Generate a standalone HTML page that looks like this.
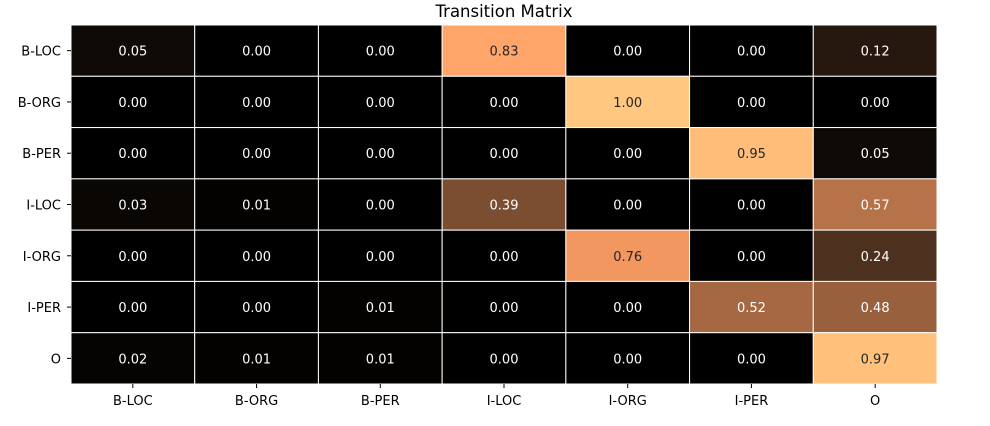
<!DOCTYPE html>
<html><head><meta charset="utf-8"><style>
body{margin:0;background:#fff;}
svg{display:block;font-family:"DejaVu Sans","Liberation Sans",sans-serif;}
</style></head><body>
<svg id="chart" width="990" height="426">
<text x="504" y="17" text-anchor="middle" font-size="16.5" fill="#000">Transition Matrix</text>
<g id="cells"></g><g id="ticks"></g>
</svg>
<script>
const rowLabels=["B-LOC","B-ORG","B-PER","I-LOC","I-ORG","I-PER","O"];
const colLabels=["B-LOC","B-ORG","B-PER","I-LOC","I-ORG","I-PER","O"];
const row0=[0.05,0.00,0.00,0.83,0.00,0.00,0.12];
const row1=[0.00,0.00,0.00,0.00,1.00,0.00,0.00];
const row2=[0.00,0.00,0.00,0.00,0.00,0.95,0.05];
const row3=[0.03,0.01,0.00,0.39,0.00,0.00,0.57];
const row4=[0.00,0.00,0.00,0.00,0.76,0.00,0.24];
const row5=[0.00,0.00,0.01,0.00,0.00,0.52,0.48];
const row6=[0.02,0.01,0.01,0.00,0.00,0.00,0.97];
const values=[row0,row1,row2,row3,row4,row5,row6];
const X0=71,X1=937,Y0=25,Y1=384;
const cw=(X1-X0)/colLabels.length, ch=(Y1-Y0)/rowLabels.length;
const xs=i=>X0+i*cw, ys=j=>Y0+j*ch;
const NS="http://www.w3.org/2000/svg";
function copper(v){return [Math.min(1,1.25*v)*255,0.7812*v*255,0.4975*v*255].map(Math.round);}
function lum(c){const l=c.map(x=>{x/=255;return x<=0.03928?x/12.92:Math.pow((x+0.055)/1.055,2.4);});return 0.2126*l[0]+0.7152*l[1]+0.0722*l[2];}
const cells=document.getElementById('cells'),ticks=document.getElementById('ticks');
values.forEach((row,j)=>row.forEach((v,i)=>{
 const c=copper(v);
 const r=document.createElementNS(NS,'rect');
 r.setAttribute('x',xs(i));r.setAttribute('y',ys(j));r.setAttribute('width',cw);r.setAttribute('height',ch);
 r.setAttribute('fill',`rgb(${c})`);r.setAttribute('stroke','#fff');r.setAttribute('stroke-width','1');
 
 
 cells.appendChild(r);
 const t=document.createElementNS(NS,'text');
 t.setAttribute('x',xs(i)+cw/2);t.setAttribute('y',ys(j)+ch/2+5);t.setAttribute('text-anchor','middle');
 t.setAttribute('font-size','13');t.setAttribute('fill',lum(c)>0.408?'#262626':'#fff');
 t.textContent=v.toFixed(2);
 
 
 cells.appendChild(t);
}));
rowLabels.forEach((l,j)=>{
 const t=document.createElementNS(NS,'text');
 t.setAttribute('x',X0-10);t.setAttribute('y',ys(j)+ch/2+5);t.setAttribute('text-anchor','end');t.setAttribute('font-size','13');
 t.textContent=l;
 
 
 ticks.appendChild(t);
 const k=document.createElementNS(NS,'line');
 k.setAttribute('x1',X0-4);k.setAttribute('x2',X0);k.setAttribute('y1',ys(j)+ch/2);k.setAttribute('y2',ys(j)+ch/2);k.setAttribute('stroke','#000');
 
 
 ticks.appendChild(k);
});
colLabels.forEach((l,i)=>{
 const t=document.createElementNS(NS,'text');
 t.setAttribute('x',xs(i)+cw/2);t.setAttribute('y',Y1+21);t.setAttribute('text-anchor','middle');t.setAttribute('font-size','13');
 t.textContent=l;
 
 
 ticks.appendChild(t);
 const k=document.createElementNS(NS,'line');
 k.setAttribute('x1',xs(i)+cw/2);k.setAttribute('x2',xs(i)+cw/2);k.setAttribute('y1',Y1);k.setAttribute('y2',Y1+4);k.setAttribute('stroke','#000');
 
 
 ticks.appendChild(k);
});
</script>
</body></html>
